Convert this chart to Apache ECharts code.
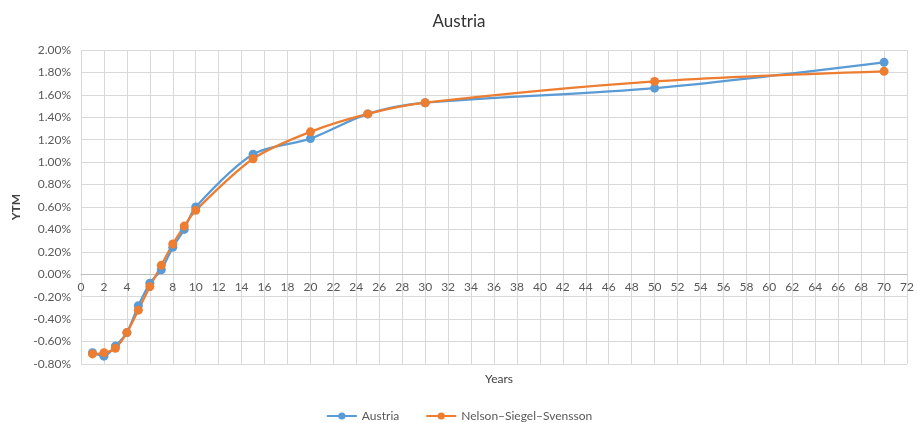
<!DOCTYPE html>
<html><head><meta charset="utf-8">
<script src="https://cdn.jsdelivr.net/npm/echarts@6/dist/echarts.min.js"></script>
<style>html,body{margin:0;padding:0;background:#fff}#c{width:918px;height:423px}</style>
</head><body><div id="c"></div>
<script>
const years = [1,2,3,4,5,6,7,8,9,10,15,20,25,30,50,70];
const austria = [-0.70,-0.73,-0.64,-0.52,-0.28,-0.08,0.04,0.24,0.40,0.60,1.07,1.21,1.43,1.53,1.66,1.89];
const nss = [-0.71,-0.70,-0.66,-0.52,-0.32,-0.11,0.08,0.27,0.43,0.57,1.03,1.27,1.43,1.53,1.72,1.81];
const seriesNames = ['Austria','Nelson\u2013Siegel\u2013Svensson'];
const chart = echarts.init(document.getElementById('c'));
const font = 'Lato, "Liberation Sans", sans-serif';
const txt = '#595959';
const grid = '#d9d9d9';
chart.setOption({
  animation:false,
  textStyle:{fontFamily:font},
  title:[
    {text:'Austria',left:'center',top:8,textStyle:{fontSize:17,fontWeight:'normal',color:'#333',fontFamily:font}},
    {text:'Years',left:494,top:368,textAlign:'center',textStyle:{fontSize:12,fontWeight:'normal',color:'#404040',fontFamily:font}}
  ],
  legend:{top:405,left:'center',itemWidth:30,itemHeight:9,itemGap:26,textStyle:{fontSize:12,color:txt,fontFamily:font},data:seriesNames},
  grid:{left:81,right:11,top:50,bottom:59,containLabel:false,outerBoundsMode:'none'},
  xAxis:{type:'value',min:0,max:72,interval:2,position:'bottom',offset:-90,
    axisLine:{onZero:false,lineStyle:{color:'#bfbfbf'}},axisTick:{show:false},
    axisLabel:{fontSize:12,color:txt,margin:7,fontFamily:font},
    splitLine:{show:true,lineStyle:{color:grid}}},
  yAxis:{type:'value',min:-0.8,max:2.0,interval:0.2,name:'YTM',nameLocation:'middle',nameGap:58,nameRotate:90,
    nameTextStyle:{fontSize:12,color:'#404040',fontFamily:font,fontWeight:'bold'},
    axisLine:{show:false,onZero:false},axisTick:{show:false},
    axisLabel:{fontSize:12,color:txt,margin:10,fontFamily:font,formatter:v=>v.toFixed(2)+'%'},
    splitLine:{show:true,lineStyle:{color:grid}}},
  series:[
    {name:seriesNames[0],type:'line',smooth:0.3,data:years.map((y,i)=>[y,austria[i]]),
     symbol:'circle',symbolSize:9,itemStyle:{color:'#5b9bd5'},lineStyle:{width:2.25,color:'#5b9bd5'}},
    {name:seriesNames[1],type:'line',smooth:0.3,data:years.map((y,i)=>[y,nss[i]]),
     symbol:'circle',symbolSize:9,itemStyle:{color:'#ed7d31'},lineStyle:{width:2.25,color:'#ed7d31'}}
  ]
});
</script></body></html>
